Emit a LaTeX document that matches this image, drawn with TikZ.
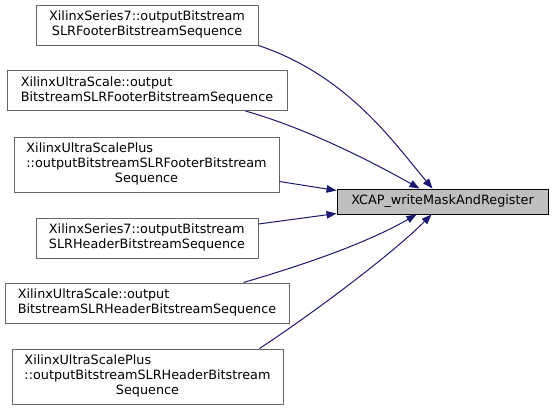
\documentclass[tikz,border=0pt]{standalone}
\usepackage{fontspec}
\setmainfont{DejaVu Sans}
\usetikzlibrary{arrows.meta,calc}
\definecolor{edgeblue}{HTML}{191970}
\definecolor{boxgray}{HTML}{666666}
\definecolor{targetfill}{HTML}{BFBFBF}
\newcommand{\lbl}[1]{\begin{tabular}{@{}l@{}}#1\end{tabular}}
\newcommand{\lastc}[1]{\multicolumn{1}{@{}c@{}}{#1}}
\begin{document}
\begin{tikzpicture}[x=1pt,y=-1pt,
  every node/.style={font=\fontsize{12.8}{15}\selectfont},
  fnbox/.style={draw=boxgray,fill=white,line width=1pt,inner sep=0pt},
  tgtbox/.style={draw=black,fill=targetfill,line width=1pt,inner sep=0pt},
  call/.style={draw=edgeblue,line width=1pt,-{Triangle[length=10pt,width=7.5pt]}}]
\useasboundingbox (0,0) rectangle (553,410);
\node[tgtbox,minimum width=211pt,minimum height=25pt] (t) at (442.5,201.5) {XCAP\_writeMaskAndRegister};
\node[fnbox,minimum width=222pt,minimum height=40pt] (b1) at (147,25)
  {\lbl{XilinxSeries7::outputBitstream\\\lastc{SLRFooterBitstreamSequence}}};
\node[fnbox,minimum width=280pt,minimum height=40pt] (b2) at (147,90.5)
  {\lbl{XilinxUltraScale::output\\\lastc{BitstreamSLRFooterBitstreamSequence}}};
\node[fnbox,minimum width=265pt,minimum height=55pt] (b3) at (146.5,164.5)
  {\lbl{XilinxUltraScalePlus\\::outputBitstreamSLRFooterBitstream\\\lastc{Sequence}}};
\node[fnbox,minimum width=222pt,minimum height=40pt] (b4) at (147,238)
  {\lbl{XilinxSeries7::outputBitstream\\\lastc{SLRHeaderBitstreamSequence}}};
\node[fnbox,minimum width=284pt,minimum height=40pt] (b5) at (147,303)
  {\lbl{XilinxUltraScale::output\\\lastc{BitstreamSLRHeaderBitstreamSequence}}};
\node[fnbox,minimum width=271pt,minimum height=55pt] (b6) at (147.5,376.5)
  {\lbl{XilinxUltraScalePlus\\::outputBitstreamSLRHeaderBitstream\\\lastc{Sequence}}};
\draw[call] (b1.south east) .. controls (348,75.5) and (394,143) .. ($(t.north west)+(96,0)$);
\draw[call] ($(b2.south east)+(-42,0)$) .. controls (305,128) and (367,159) .. ($(t.north west)+(83,0)$);
\draw[call] ($(b3.east)+(0,17)$) -- ($(t.north west)+(0,2)$);
\draw[call] ($(b4.east)+(0,-14)$) -- ($(t.south west)+(0,-1)$);
\draw[call] ($(b5.north east)+(-46,0)$) .. controls (303,265) and (365,244) .. ($(t.south west)+(80,0)$);
\draw[call] ($(b6.north east)+(-24,0)$) .. controls (309,316) and (390,256) .. ($(t.south west)+(95,0)$);
\end{tikzpicture}
\end{document}
